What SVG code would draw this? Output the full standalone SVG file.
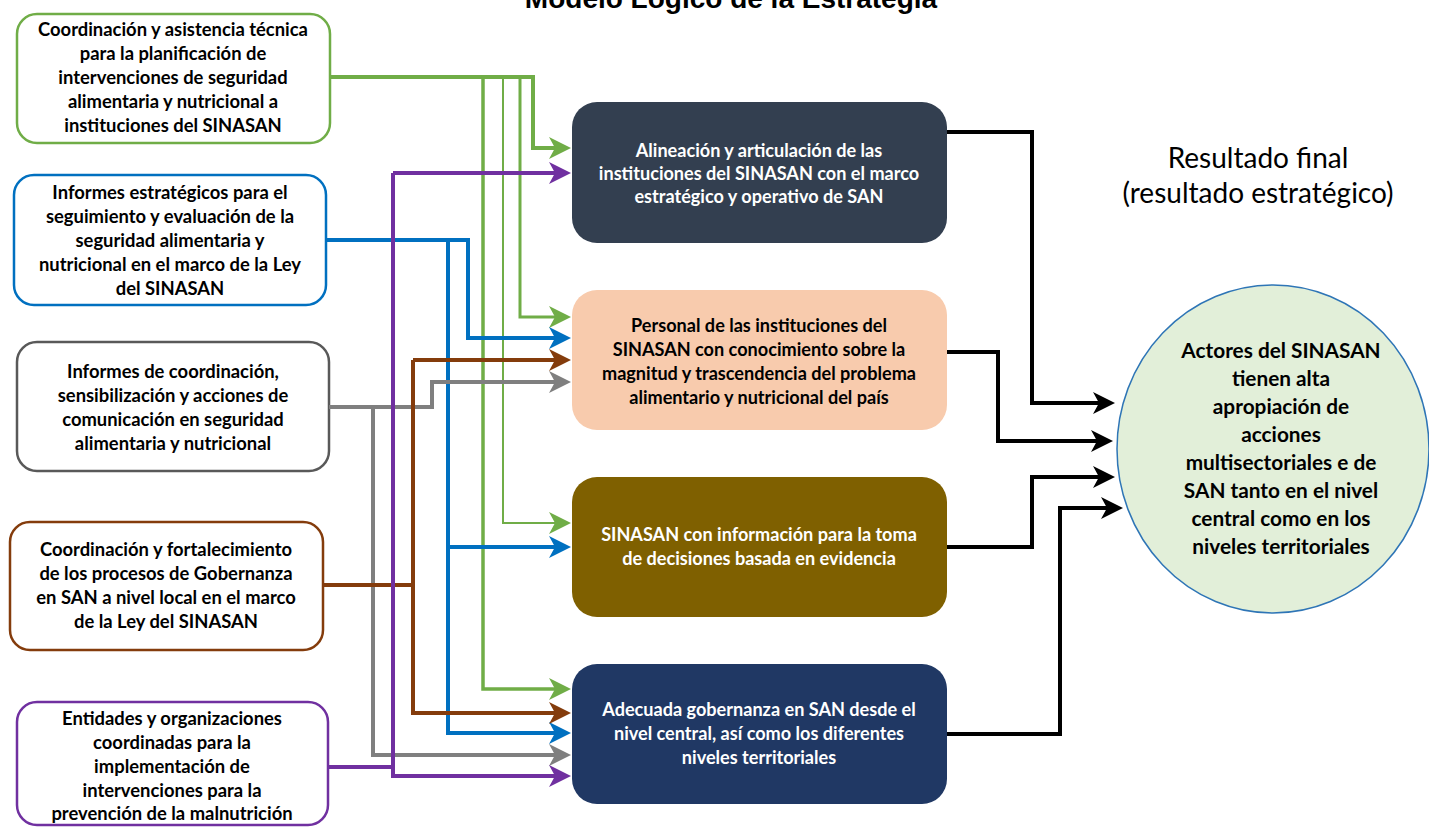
<svg xmlns="http://www.w3.org/2000/svg" width="1429" height="827" viewBox="0 0 1429 827">
<style>
.src{fill:#ffffff;stroke-width:2.5}
.st{font-family:Lato,"Liberation Sans",sans-serif;font-weight:bold;font-size:18.4px;fill:#000;text-anchor:middle}
.mt{font-family:Lato,"Liberation Sans",sans-serif;font-weight:bold;font-size:18.1px;text-anchor:middle}
.ct{font-family:Lato,"Liberation Sans",sans-serif;font-weight:bold;font-size:20.8px;fill:#000;text-anchor:middle}
.rt{font-family:Lato,"Liberation Sans",sans-serif;font-size:28px;fill:#000;text-anchor:middle}
.c{fill:none;stroke-width:4;stroke-linejoin:miter}
.g{stroke:#70ad47}.b{stroke:#0070c0}.p{stroke:#7030a0}.y{stroke:#7f7f7f}.r{stroke:#843c0c}.k{stroke:#000}
</style>
<defs>
<marker id="ag" markerUnits="userSpaceOnUse" markerWidth="22" markerHeight="22" refX="13" refY="11" orient="auto"><path d="M0,0 L22,11 L0,22 L6,11 z" fill="#70ad47"/></marker>
<marker id="ab" markerUnits="userSpaceOnUse" markerWidth="22" markerHeight="22" refX="13" refY="11" orient="auto"><path d="M0,0 L22,11 L0,22 L6,11 z" fill="#0070c0"/></marker>
<marker id="ap" markerUnits="userSpaceOnUse" markerWidth="22" markerHeight="22" refX="13" refY="11" orient="auto"><path d="M0,0 L22,11 L0,22 L6,11 z" fill="#7030a0"/></marker>
<marker id="ay" markerUnits="userSpaceOnUse" markerWidth="22" markerHeight="22" refX="13" refY="11" orient="auto"><path d="M0,0 L22,11 L0,22 L6,11 z" fill="#7f7f7f"/></marker>
<marker id="ar" markerUnits="userSpaceOnUse" markerWidth="22" markerHeight="22" refX="13" refY="11" orient="auto"><path d="M0,0 L22,11 L0,22 L6,11 z" fill="#843c0c"/></marker>
<marker id="ak" markerUnits="userSpaceOnUse" markerWidth="22" markerHeight="22" refX="13" refY="11" orient="auto"><path d="M0,0 L22,11 L0,22 L6,11 z" fill="#000"/></marker>
</defs>
<rect width="1429" height="827" fill="#ffffff"/>
<text x="731" y="8" font-family="'Liberation Sans',Arial,sans-serif" font-weight="bold" font-size="28" text-anchor="middle">Modelo Lógico de la Estrategia</text>

<g id="in1">
<rect class="src" x="17" y="14" width="313" height="129" rx="20" stroke="#70ad47"/>
<text class="st"><tspan x="173" y="36">Coordinación y asistencia técnica</tspan><tspan x="173" y="60">para la planificación de</tspan><tspan x="173" y="84">intervenciones de seguridad</tspan><tspan x="173" y="108">alimentaria y nutricional a</tspan><tspan x="173" y="132">instituciones del SINASAN</tspan></text>
</g>
<g id="in2">
<rect class="src" x="14" y="175" width="312" height="130" rx="20" stroke="#0070c0"/>
<text class="st"><tspan x="170" y="199">Informes estratégicos para el</tspan><tspan x="170" y="223">seguimiento y evaluación de la</tspan><tspan x="170" y="247">seguridad alimentaria y</tspan><tspan x="170" y="271">nutricional en el marco de la Ley</tspan><tspan x="170" y="295">del SINASAN</tspan></text>
</g>
<g id="in3">
<rect class="src" x="17" y="342" width="312" height="129" rx="20" stroke="#595959"/>
<text class="st"><tspan x="173" y="378">Informes de coordinación,</tspan><tspan x="173" y="402">sensibilización y acciones de</tspan><tspan x="173" y="426">comunicación en seguridad</tspan><tspan x="173" y="450">alimentaria y nutricional</tspan></text>
</g>
<g id="in4">
<rect class="src" x="10" y="522" width="313" height="128" rx="20" stroke="#843c0c"/>
<text class="st"><tspan x="166" y="556">Coordinación y fortalecimiento</tspan><tspan x="166" y="580">de los procesos de Gobernanza</tspan><tspan x="166" y="604">en SAN a nivel local en el marco</tspan><tspan x="166" y="628">de la Ley del SINASAN</tspan></text>
</g>
<g id="in5">
<rect class="src" x="17" y="702" width="311" height="123" rx="20" stroke="#7030a0"/>
<text class="st"><tspan x="172" y="725">Entidades y organizaciones</tspan><tspan x="172" y="749">coordinadas para la</tspan><tspan x="172" y="773">implementación de</tspan><tspan x="172" y="797">intervenciones para la</tspan><tspan x="172" y="820">prevención de la malnutrición</tspan></text>
</g>

<g id="outA">
<rect x="572" y="102" width="375" height="141" rx="25" fill="#333f50"/>
<text class="mt" fill="#ffffff"><tspan x="759" y="157">Alineación y articulación de las</tspan><tspan x="759" y="180">instituciones del SINASAN con el marco</tspan><tspan x="759" y="203">estratégico y operativo de SAN</tspan></text>
</g>
<g id="outB">
<rect x="572" y="290" width="375" height="140" rx="25" fill="#f8cbad"/>
<text class="mt" fill="#000000"><tspan x="759" y="332">Personal de las instituciones del</tspan><tspan x="759" y="356">SINASAN con conocimiento sobre la</tspan><tspan x="759" y="380">magnitud y trascendencia del problema</tspan><tspan x="759" y="404">alimentario y nutricional del país</tspan></text>
</g>
<g id="outC">
<rect x="572" y="477" width="375" height="140" rx="25" fill="#7f6000"/>
<text class="mt" fill="#ffffff"><tspan x="759" y="541">SINASAN con información para la toma</tspan><tspan x="759" y="565">de decisiones basada en evidencia</tspan></text>
</g>
<g id="outD">
<rect x="572" y="664" width="375" height="140" rx="25" fill="#203864"/>
<text class="mt" fill="#ffffff"><tspan x="759" y="716">Adecuada gobernanza en SAN desde el</tspan><tspan x="759" y="740">nivel central, así como los diferentes</tspan><tspan x="759" y="764">niveles territoriales</tspan></text>
</g>

<g id="final">
<text class="rt"><tspan x="1258" y="168">Resultado final</tspan><tspan x="1258" y="203">(resultado estratégico)</tspan></text>
<ellipse cx="1273" cy="449" rx="156" ry="164" fill="#e2efd9" stroke="#2e75b6" stroke-width="1.5"/>
<text class="ct"><tspan x="1281" y="358">Actores del SINASAN</tspan><tspan x="1281" y="386">tienen alta</tspan><tspan x="1281" y="414">apropiación de</tspan><tspan x="1281" y="442">acciones</tspan><tspan x="1281" y="470">multisectoriales e de</tspan><tspan x="1281" y="498">SAN tanto en el nivel</tspan><tspan x="1281" y="526">central como en los</tspan><tspan x="1281" y="554">niveles territoriales</tspan></text>
</g>

<g id="connectors">
<path class="c g" d="M330,77 H533 V148 H562" marker-end="url(#ag)"/>
<path class="c g" style="stroke-width:3" d="M520,77 V317 H562" marker-end="url(#ag)"/>
<path class="c g" style="stroke-width:2" d="M503,77 V523 H562" marker-end="url(#ag)"/>
<path class="c g" style="stroke-width:3.5" d="M483,77 V689 H562" marker-end="url(#ag)"/>
<path class="c b" d="M326,240 H468 V338 H562" marker-end="url(#ab)"/>
<path class="c b" d="M448,240 V733 H562" marker-end="url(#ab)"/>
<path class="c b" d="M448,547 H562" marker-end="url(#ab)"/>
<path class="c y" d="M329,407 H432 V382 H562" marker-end="url(#ay)"/>
<path class="c y" d="M373,407 V755 H562" marker-end="url(#ay)"/>
<path class="c r" d="M323,585 H413"/>
<path class="c r" d="M413,360 V713 H562" marker-end="url(#ar)"/>
<path class="c r" d="M413,360 H562" marker-end="url(#ar)"/>
<path class="c p" d="M328,767 H395"/>
<path class="c p" d="M393,173 V776 H562" marker-end="url(#ap)"/>
<path class="c p" d="M393,173 H562" marker-end="url(#ap)"/>
<path class="c k" d="M947,132 H1032 V403 H1106" marker-end="url(#ak)"/>
<path class="c k" d="M947,352 H998 V441 H1104" marker-end="url(#ak)"/>
<path class="c k" d="M947,547 H1032 V477 H1106" marker-end="url(#ak)"/>
<path class="c k" d="M947,734 H1060 V508 H1114" marker-end="url(#ak)"/>
</g>
</svg>
